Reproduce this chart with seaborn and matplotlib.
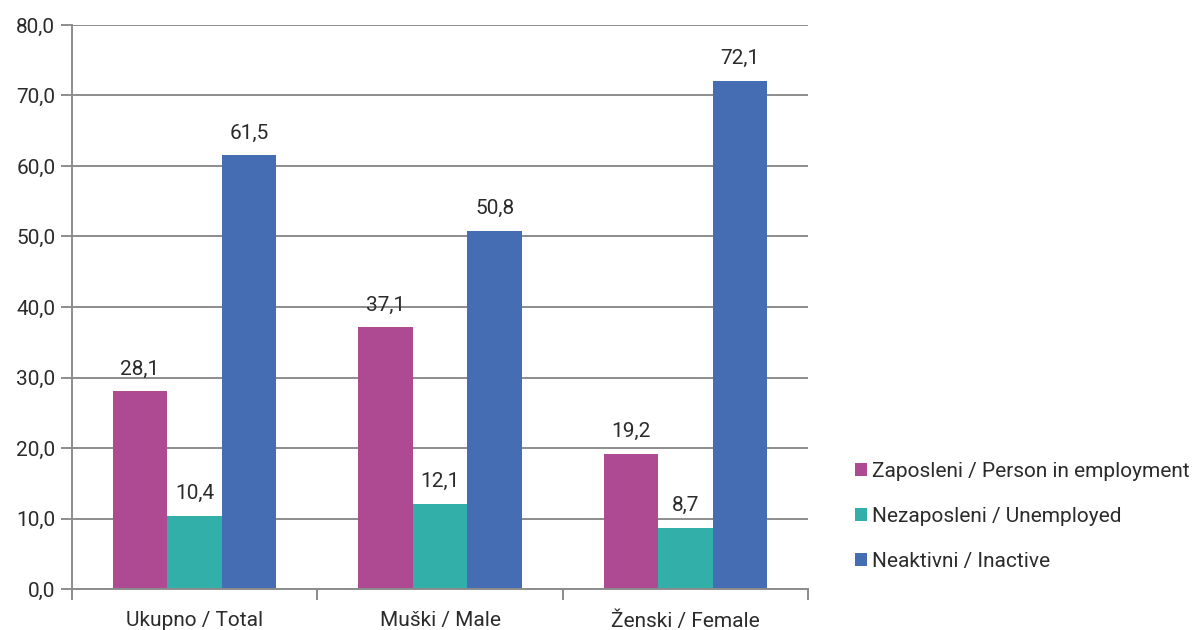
import pandas as pd
import matplotlib.pyplot as plt
import seaborn as sns

categories = ["Ukupno / Total", "Muški / Male", "Ženski / Female"]
series = ["Zaposleni / Person in employment", "Nezaposleni / Unemployed", "Neaktivni / Inactive"]
employed = [28.1, 37.1, 19.2]
unemployed = [10.4, 12.1, 8.7]
inactive = [61.5, 50.8, 72.1]
colors = ["#AD4A91", "#33AFAA", "#446DB4"]

df = pd.DataFrame({
    "cat": categories * 3,
    "series": [series[0]] * 3 + [series[1]] * 3 + [series[2]] * 3,
    "val": employed + unemployed + inactive,
})

sns.set_theme(style="white")
plt.rcParams['font.family'] = ['Roboto', 'DejaVu Sans']
plt.rcParams['font.weight'] = 'normal'
txt = "#2b2b2b"

fig = plt.figure(figsize=(12.01, 6.30), dpi=100)
ax = fig.add_axes([72 / 1201, 41 / 630, 736 / 1201, 564 / 630])

sns.barplot(data=df, x="cat", y="val", hue="series", palette=colors,
            width=0.667, saturation=1, linewidth=0, ax=ax, legend=True)

for cont in ax.containers:
    ax.bar_label(cont, labels=[f"{v:.1f}".replace(".", ",") for v in cont.datavalues],
                 padding=9, fontsize=15, color=txt)

ax.set_ylim(0, 80)
ax.set_xlim(-0.5, 2.5)
ax.set_yticks(range(0, 81, 10))
ax.set_yticklabels([f"{v:.1f}".replace(".", ",") for v in range(0, 81, 10)],
                   fontsize=15, color=txt)
ax.yaxis.grid(True, color="#8c8c8c", lw=1.4)
ax.set_axisbelow(True)
ax.tick_params(axis="y", length=8, width=1.4, color="#8c8c8c", left=True, pad=4)
ax.set_xticks([0, 1, 2])
ax.set_xticklabels(categories, fontsize=15, color=txt)
ax.set_xticks([-0.5, 0.5, 1.5, 2.5], minor=True)
ax.tick_params(axis="x", which="major", length=0, pad=16)
ax.tick_params(axis="x", which="minor", length=8, width=1.4, color="#8c8c8c", bottom=True)
ax.set_xlabel("")
ax.set_ylabel("")
for s in ["top", "right"]:
    ax.spines[s].set_visible(False)
for s in ["left", "bottom"]:
    ax.spines[s].set_color("#8c8c8c")
    ax.spines[s].set_linewidth(1.4)

handles, labels = ax.get_legend_handles_labels()
ax.get_legend().remove()
fig.legend(handles, labels, loc="upper left", bbox_to_anchor=(836 / 1201, 1 - 443 / 630),
           frameon=False, fontsize=15, handlelength=0.6, handleheight=0.6,
           handletextpad=0.25, labelspacing=1.25, labelcolor=txt)

fig.savefig("out.png", dpi=100)
